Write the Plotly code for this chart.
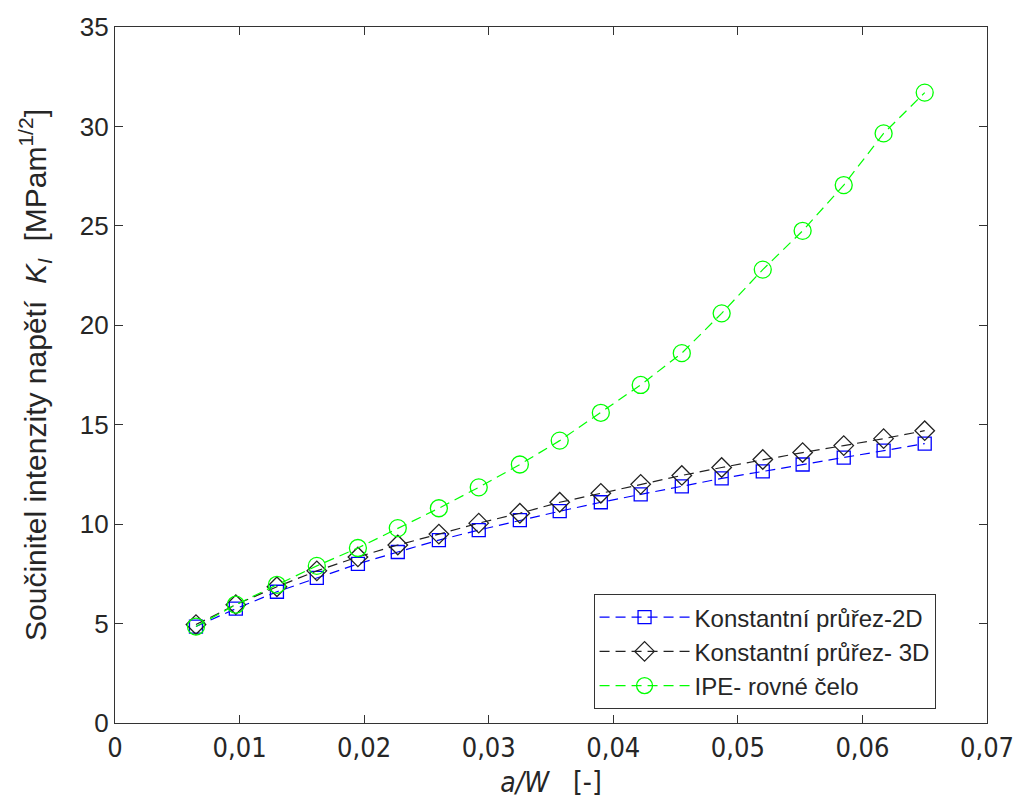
import plotly.graph_objects as go

# a/W values
a_w = [0.0065, 0.0097, 0.0130, 0.0162, 0.0195, 0.0227, 0.0260, 0.0292, 0.0325,
       0.0357, 0.0390, 0.0422, 0.0455, 0.0487, 0.0520, 0.0552, 0.0585, 0.0617, 0.0650]

k_2d = [4.85, 5.75, 6.6, 7.3, 8.0, 8.6, 9.2, 9.7, 10.2, 10.65, 11.1, 11.5, 11.9,
        12.3, 12.65, 13.0, 13.35, 13.7, 14.05]
k_3d = [4.95, 5.95, 6.85, 7.65, 8.35, 8.95, 9.5, 10.05, 10.55, 11.1, 11.55, 12.0,
        12.45, 12.85, 13.25, 13.6, 13.95, 14.3, 14.7]
k_ipe = [4.85, 5.95, 6.95, 7.9, 8.8, 9.8, 10.8, 11.85, 13.0, 14.2, 15.6, 17.0,
         18.6, 20.6, 22.8, 24.75, 27.05, 29.65, 31.7]

names = ["Konstantní průřez-2D", "Konstantní průřez- 3D", "IPE- rovné čelo"]

x_ticks = [0, 0.01, 0.02, 0.03, 0.04, 0.05, 0.06, 0.07]
x_ticktext = ["0", "0,01", "0,02", "0,03", "0,04", "0,05", "0,06", "0,07"]
y_ticks = [0, 5, 10, 15, 20, 25, 30, 35]
y_ticktext = ["0", "5", "10", "15", "20", "25", "30", "35"]

FONT = "Liberation Sans, Arial, sans-serif"
NARROW = "Liberation Sans Narrow, DejaVu Sans Condensed, Liberation Sans, sans-serif"
TXT = "#262626"

fig = go.Figure()
fig.add_trace(go.Scatter(
    x=a_w, y=k_2d, name=names[0], mode="lines+markers",
    line=dict(color="#0000FF", width=1.2, dash="10px,6px"),
    marker=dict(symbol="square-open", size=13, color="#0000FF", line=dict(width=1.3)),
))
fig.add_trace(go.Scatter(
    x=a_w, y=k_3d, name=names[1], mode="lines+markers",
    line=dict(color="#222222", width=1.2, dash="10px,6px"),
    marker=dict(symbol="diamond-open", size=15, color="#222222", line=dict(width=1.3)),
))
fig.add_trace(go.Scatter(
    x=a_w, y=k_ipe, name=names[2], mode="lines+markers",
    line=dict(color="#00FF00", width=1.2, dash="10px,6px"),
    marker=dict(symbol="circle-open", size=17, color="#00FF00", line=dict(width=1.3)),
))

axis_common = dict(
    showgrid=False, zeroline=False, showline=True, linecolor="#333333", linewidth=1.3,
    mirror="ticks", ticks="inside", ticklen=8, tickcolor="#333333", tickwidth=1.3,
    ticklabeloverflow="allow",
)

fig.update_layout(
    width=1026, height=808,
    margin=dict(l=115, r=26, t=26, b=85),
    paper_bgcolor="white", plot_bgcolor="white",
    font=dict(family=FONT, color=TXT),
    hovermode=False,
    xaxis=dict(
        range=[0, 0.07], tickvals=x_ticks, ticktext=x_ticktext,
        tickfont=dict(family=NARROW, size=27, color=TXT),
        title=dict(text="<i>a/W</i>   [-]", font=dict(family=NARROW, size=28, color=TXT), standoff=10),
        **axis_common,
    ),
    yaxis=dict(
        range=[0, 35], tickvals=y_ticks, ticktext=y_ticktext,
        tickfont=dict(family=FONT, size=26, color=TXT),
        title=dict(text="Součinitel intenzity napětí  <i>K</i><sub><i>I</i></sub>  [MPam<sup>1/2</sup>]",
                   font=dict(family=FONT, size=30, color=TXT), standoff=24),
        **axis_common,
    ),
    legend=dict(
        x=0.941, y=0.02, xanchor="right", yanchor="bottom",
        bgcolor="white", bordercolor="#333333", borderwidth=1,
        font=dict(family=FONT, size=24, color=TXT),
        itemwidth=90, tracegroupgap=0,
    ),
    showlegend=True,
)

fig.write_html(
    "out.html",
    config={"displayModeBar": False},
    post_script="document.body.style.margin='0';document.body.style.overflow='hidden';",
)
